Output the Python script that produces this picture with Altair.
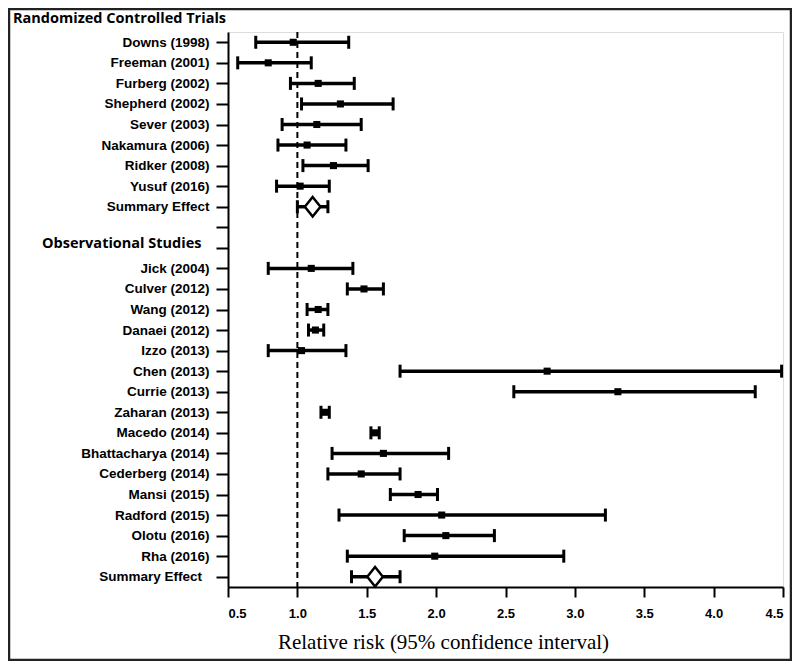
import altair as alt
import pandas as pd

SUM1 = "Summary Effect\u00a0\u00a0"
SUM2 = "Summary Effect\u00a0\u00a0\u200b"
OBS = "Observational Studies"
HEADER = "Randomized Controlled Trials"

# y-axis rows, top to bottom
rows = ["Downs (1998)", "Freeman (2001)", "Furberg (2002)", "Shepherd (2002)",
        "Sever (2003)", "Nakamura (2006)", "Ridker (2008)", "Yusuf (2016)", SUM1,
        " ", OBS,
        "Jick (2004)", "Culver (2012)", "Wang (2012)", "Danaei (2012)", "Izzo (2013)",
        "Chen (2013)", "Currie (2013)", "Zaharan (2013)", "Macedo (2014)",
        "Bhattacharya (2014)", "Cederberg (2014)", "Mansi (2015)", "Radford (2015)",
        "Olotu (2016)", "Rha (2016)", SUM2]

studies = ["Downs (1998)", "Freeman (2001)", "Furberg (2002)", "Shepherd (2002)",
           "Sever (2003)", "Nakamura (2006)", "Ridker (2008)", "Yusuf (2016)", SUM1,
           "Jick (2004)", "Culver (2012)", "Wang (2012)", "Danaei (2012)", "Izzo (2013)",
           "Chen (2013)", "Currie (2013)", "Zaharan (2013)", "Macedo (2014)",
           "Bhattacharya (2014)", "Cederberg (2014)", "Mansi (2015)", "Radford (2015)",
           "Olotu (2016)", "Rha (2016)", SUM2]
rr = [0.97, 0.79, 1.15, 1.31, 1.14, 1.07, 1.26, 1.02, 1.11,
      1.10, 1.48, 1.15, 1.13, 1.03, 2.80, 3.31, 1.20, 1.56,
      1.62, 1.46, 1.87, 2.04, 2.07, 1.99, 1.56]
lo = [0.70, 0.57, 0.95, 1.03, 0.89, 0.86, 1.04, 0.85, 1.00,
      0.79, 1.36, 1.07, 1.08, 0.79, 1.74, 2.56, 1.17, 1.53,
      1.25, 1.22, 1.67, 1.30, 1.77, 1.36, 1.39]
hi = [1.37, 1.10, 1.41, 1.69, 1.46, 1.35, 1.51, 1.23, 1.22,
      1.40, 1.62, 1.22, 1.19, 1.35, 4.49, 4.30, 1.23, 1.59,
      2.09, 1.74, 2.01, 3.22, 2.42, 2.92, 1.74]
kind = ["study"] * 8 + ["summary"] + ["study"] * 15 + ["summary"]

x_ticks = [0.5, 1.0, 1.5, 2.0, 2.5, 3.0, 3.5, 4.0, 4.5]

df = pd.DataFrame({"label": studies, "rr": rr, "lo": lo, "hi": hi, "kind": kind})

W, H = 555, 555

x_scale = alt.Scale(domain=[0.5, 4.5], nice=False, zero=False)
x_axis = alt.Axis(values=x_ticks, format=".1f", grid=False,
                  domainColor="black", domainWidth=2, tickColor="black", tickWidth=2,
                  tickSize=10, labelPadding=10, labelFont="Liberation Sans",
                  labelFontWeight="bold", labelFontSize=13, labelColor="black",
                  titleFont="Liberation Serif", titleFontWeight="normal", titleFontSize=21,
                  titleColor="black", titleX=215, titleY=61, titleAlign="center",
                  titleBaseline="alphabetic", titleAnchor="start")
x_title = "Relative risk (95% confidence interval)"

is_obs = "indexof(datum.value, 'Observational') >= 0"
y_scale = alt.Scale(type="point", domain=rows, padding=0.5)
y_axis = alt.Axis(grid=False, domainColor="black", domainWidth=2, tickColor="black",
                  tickWidth=2, tickSize=12, labelColor="black",
                  labelPadding={"condition": {"test": is_obs, "value": 15}, "value": 7},
                  labelFont={"condition": {"test": is_obs, "value": "Open Sans"},
                             "value": "Liberation Sans"},
                  labelFontSize={"condition": {"test": is_obs, "value": 14.5}, "value": 13.5},
                  labelOffset={"condition": {"test": is_obs, "value": -4}, "value": 0},
                  labelFontWeight="bold", labelLimit=300)
y_enc = alt.Y("label:N", scale=y_scale, axis=y_axis, title=None, sort=rows)

base = alt.Chart(df)

dashed = alt.Chart(pd.DataFrame({"v": [1.0]})).mark_rule(
    color="black", strokeDash=[6, 4], strokeWidth=2
).encode(x=alt.X("v:Q", scale=x_scale, axis=x_axis, title=x_title))

bars = base.mark_rule(color="black", strokeWidth=3.5).encode(
    x=alt.X("lo:Q", scale=x_scale, axis=x_axis, title=x_title),
    x2="hi:Q",
    y=y_enc,
)

caps = base.transform_fold(["lo", "hi"], as_=["end", "val"]).mark_tick(
    color="black", thickness=3, size=13, opacity=1
).encode(
    x=alt.X("val:Q", scale=x_scale, axis=x_axis, title=x_title),
    y=y_enc,
)

squares = base.transform_filter("datum.kind == 'study'").mark_square(
    color="black", size=50, opacity=1
).encode(
    x=alt.X("rr:Q", scale=x_scale, axis=x_axis, title=x_title),
    y=y_enc,
)

diamonds = base.transform_filter("datum.kind == 'summary'").mark_point(
    shape="M0,-1L0.8,0L0,1L-0.8,0Z", filled=True, fill="white", stroke="black",
    strokeWidth=2.5, size=380, opacity=1
).encode(
    x=alt.X("rr:Q", scale=x_scale, axis=x_axis, title=x_title),
    y=y_enc,
)

header = alt.Chart(pd.DataFrame({"t": [HEADER]})).mark_text(
    align="left", baseline="alphabetic", font="Open Sans", fontSize=14.5,
    fontWeight="bold", color="black"
).encode(text="t:N", x=alt.value(-215), y=alt.value(-9))

frame = alt.Chart(pd.DataFrame({"f": [0]})).mark_rect(
    fillOpacity=0, stroke="#222222", strokeWidth=2.5
).encode(
    x=alt.value(-219), x2=alt.value(W + 8), y=alt.value(-23), y2=alt.value(H + 73)
)

chart = alt.layer(dashed, bars, caps, squares, diamonds, header, frame).properties(
    width=W, height=H,
    autosize=alt.AutoSizeParams(type="none"),
    padding={"left": 220, "top": 24, "right": 9, "bottom": 74},
).configure_view(stroke=None).configure(background="white")

chart.save("out.html", embed_options={"renderer": "svg", "actions": False})
